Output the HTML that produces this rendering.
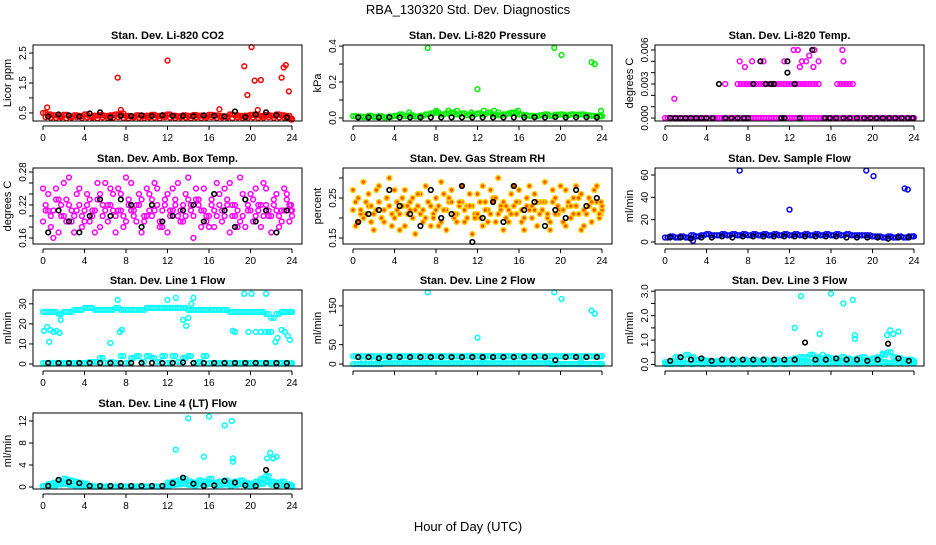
<!DOCTYPE html>
<html><head><meta charset="utf-8"><style>
html,body{margin:0;padding:0;background:#fff;}
svg text{font-family:"Liberation Sans",sans-serif;}
</style></head><body>
<svg id="chart" width="936" height="540" xmlns="http://www.w3.org/2000/svg">
<rect x="0" y="0" width="936" height="540" fill="#fff"/>
<text x="468" y="14" font-size="13" text-anchor="middle">RBA_130320  Std. Dev. Diagnostics</text>
<text x="468" y="531" font-size="13" text-anchor="middle">Hour of Day (UTC)</text>
</svg>
<script>
// shared hour grids
const H49 = [0,0.5,1,1.5,2,2.5,3,3.5,4,4.5,5,5.5,6,6.5,7,7.5,8,8.5,9,9.5,10,10.5,11,11.5,12,12.5,13,13.5,14,14.5,15,15.5,16,16.5,17,17.5,18,18.5,19,19.5,20,20.5,21,21.5,22,22.5,23,23.5,24];
const H49b = [0.25,0.75,1.25,1.75,2.25,2.75,3.25,3.75,4.25,4.75,5.25,5.75,6.25,6.75,7.25,7.75,8.25,8.75,9.25,9.75,10.25,10.75,11.25,11.75,12.25,12.75,13.25,13.75,14.25,14.75,15.25,15.75,16.25,16.75,17.25,17.75,18.25,18.75,19.25,19.75,20.25,20.75,21.25,21.75,22.25,22.75,23.25,23.75,23.9];
const H24 = [0.5,1.5,2.5,3.5,4.5,5.5,6.5,7.5,8.5,9.5,10.5,11.5,12.5,13.5,14.5,15.5,16.5,17.5,18.5,19.5,20.5,21.5,22.5,23.5];
const xTicks = [0,4,8,12,16,20,24];

// CO2
const co2A = [0.50,0.45,0.42,0.40,0.44,0.38,0.42,0.40,0.45,0.38,0.41,0.43,0.40,0.42,0.45,0.48,0.40,0.38,0.42,0.40,0.41,0.44,0.40,0.42,0.45,0.41,0.39,0.42,0.40,0.43,0.41,0.40,0.44,0.42,0.40,0.39,0.45,0.42,0.40,0.41,0.44,0.42,0.40,0.43,0.41,0.45,0.42,0.40,0.30];
const co2B = [0.36,0.34,0.33,0.35,0.32,0.34,0.36,0.33,0.35,0.34,0.32,0.35,0.33,0.34,0.36,0.33,0.32,0.35,0.34,0.33,0.35,0.34,0.32,0.36,0.34,0.33,0.35,0.34,0.32,0.35,0.33,0.34,0.36,0.33,0.35,0.34,0.32,0.35,0.33,0.34,0.35,0.33,0.34,0.36,0.33,0.35,0.34,0.33,0.28];
const co2OutH = [0.4,7.2,12.0,17.0,19.4,19.7,20.1,20.4,20.7,21.0,23.0,23.2,23.4,23.7,24.0,7.5];
const co2OutV = [0.68,1.68,2.25,0.62,2.06,1.1,2.7,1.58,0.6,1.6,1.68,2.02,2.1,1.22,0.28,0.6];
const co2K = [0.38,0.45,0.42,0.38,0.48,0.52,0.35,0.40,0.40,0.42,0.40,0.42,0.40,0.40,0.39,0.42,0.40,0.38,0.55,0.36,0.45,0.52,0.42,0.35];

// Pressure
const prA = [0.01,0.008,0.005,0.012,0.006,0.01,0.004,0.008,0.012,0.02,0.01,0.015,0.008,0.012,0.02,0.025,0.03,0.02,0.025,0.03,0.02,0.025,0.015,0.02,0.025,0.02,0.03,0.02,0.015,0.02,0.025,0.03,0.02,0.015,0.012,0.01,0.015,0.02,0.012,0.018,0.02,0.015,0.02,0.018,0.02,0.015,0.012,0.01,0.01];
const prOutH = [7.2,12.0,19.4,20.1,23.0,23.3,5.4,8.0,9.2,10.0,12.6,13.6,15.3,15.9,23.9,11.4,14.0];
const prOutV = [0.39,0.16,0.39,0.35,0.31,0.30,0.03,0.04,0.04,0.04,0.04,0.04,0.03,0.04,0.04,0.03,0.03];
const prK = [0.003,0.003,0.003,0.004,0.003,0.003,0.003,0.003,0.003,0.003,0.003,0.003,0.003,0.003,0.003,0.003,0.003,0.004,0.003,0.005,0.003,0.004,0.004,0.003];

// Li-820 temp
const tpA = [0,0,0,0,0,0,0,0,0,0,0,0,0,0,0,0,0,0,0,0,0,0,0,0,0,0,0,0,0,0,0,0,0,0,0,0,0,0,0,0,0,0,0,0,0,0,0,0,0];
const tpBH = [5.8,7.0,7.3,7.6,7.9,8.2,8.5,8.8,9.1,9.4,9.7,10.0,10.3,10.6,10.9,11.2,11.5,11.8,12.1,12.4,12.7,13.0,13.3,13.6,13.9,14.2,14.5,14.8,16.6,16.9,17.2,17.5,17.8,18.1];
const tpBV = [0.003,0.003,0.003,0.003,0.003,0.003,0.003,0.003,0.003,0.003,0.003,0.003,0.003,0.003,0.003,0.003,0.003,0.003,0.003,0.003,0.003,0.003,0.003,0.003,0.003,0.003,0.003,0.003,0.003,0.003,0.003,0.003,0.003,0.003];
const tpOutH = [0.9,7.2,7.7,8.4,9.5,11.5,12.4,12.8,13.0,13.2,13.6,13.9,14.3,14.4,14.8,17.1,17.2];
const tpOutV = [0.0017,0.005,0.0045,0.005,0.005,0.005,0.006,0.006,0.0045,0.005,0.005,0.0055,0.0045,0.006,0.005,0.006,0.005];
const tpKH = [0.5,1,1.5,2,2.5,3,3.5,4,4.6,5.2,5.8,6.4,7,7.6,8,8.5,9.2,9.7,10.2,10.5,11.2,11.5,11.8,11.8,12.5,13.0,14.2,15.4,15.9,16.5,17.2,17.8,18.5,19.2,19.8,20.4,21,21.6,22.2,22.8,23.4,23.9];
const tpKV = [0,0,0,0,0,0,0,0,0,0.003,0,0,0,0,0,0.003,0.005,0.003,0.003,0.003,0,0,0.005,0.004,0.003,0,0.006,0,0,0,0,0,0,0,0,0,0,0,0,0,0,0];

// Amb box temp
const amA = [0.19,0.24,0.21,0.17,0.26,0.22,0.20,0.25,0.19,0.23,0.21,0.18,0.26,0.22,0.20,0.24,0.27,0.21,0.19,0.23,0.25,0.20,0.22,0.18,0.24,0.21,0.26,0.19,0.23,0.20,0.22,0.25,0.18,0.21,0.24,0.20,0.26,0.22,0.19,0.23,0.21,0.25,0.18,0.22,0.20,0.24,0.21,0.23,0.20];
const amB = [0.22,0.18,0.25,0.20,0.23,0.19,0.21,0.18,0.24,0.20,0.26,0.22,0.19,0.21,0.25,0.18,0.22,0.20,0.24,0.19,0.21,0.26,0.18,0.23,0.20,0.22,0.19,0.24,0.21,0.25,0.18,0.20,0.23,0.26,0.19,0.22,0.20,0.18,0.24,0.21,0.19,0.22,0.26,0.20,0.23,0.18,0.25,0.19,0.22];
const amC = [0.25,0.21,0.16,0.23,0.20,0.27,0.17,0.22,0.21,0.19,0.17,0.24,0.21,0.25,0.17,0.21,0.19,0.26,0.22,0.17,0.20,0.23,0.25,0.21,0.17,0.25,0.20,0.22,0.27,0.16,0.23,0.21,0.20,0.18,0.22,0.25,0.17,0.20,0.27,0.18,0.24,0.20,0.22,0.25,0.17,0.21,0.19,0.24,0.21];
const amD = [0.21,0.20,0.23,0.22,0.19,0.21,0.24,0.20,0.22,0.21,0.23,0.20,0.22,0.24,0.21,0.20,0.23,0.21,0.22,0.20,0.24,0.21,0.19,0.22,0.21,0.23,0.21,0.20,0.22,0.23,0.21,0.19,0.22,0.20,0.21,0.23,0.22,0.21,0.20,0.22,0.23,0.21,0.20,0.21,0.22,0.20,0.21,0.22,0.21];
const amK = [0.17,0.21,0.19,0.17,0.20,0.23,0.20,0.23,0.22,0.18,0.22,0.19,0.20,0.21,0.22,0.19,0.24,0.21,0.18,0.23,0.19,0.21,0.17,0.21];

// Gas stream RH
const rhA = [0.22,0.25,0.20,0.26,0.21,0.24,0.19,0.23,0.27,0.21,0.18,0.24,0.22,0.26,0.20,0.23,0.25,0.19,0.22,0.27,0.21,0.24,0.20,0.23,0.26,0.18,0.22,0.25,0.21,0.24,0.19,0.23,0.27,0.20,0.22,0.26,0.21,0.24,0.19,0.25,0.22,0.27,0.20,0.23,0.26,0.21,0.19,0.24,0.22];
const rhB = [0.18,0.21,0.24,0.19,0.27,0.20,0.25,0.18,0.22,0.25,0.23,0.20,0.26,0.19,0.24,0.21,0.18,0.26,0.24,0.20,0.23,0.19,0.26,0.21,0.20,0.24,0.27,0.19,0.23,0.20,0.26,0.21,0.19,0.25,0.23,0.18,0.24,0.20,0.27,0.21,0.19,0.23,0.25,0.21,0.18,0.25,0.27,0.20,0.21];
const rhC = [0.27,0.19,0.29,0.23,0.17,0.28,0.22,0.30,0.20,0.17,0.27,0.22,0.16,0.21,0.28,0.18,0.22,0.29,0.17,0.24,0.19,0.28,0.23,0.16,0.21,0.28,0.19,0.24,0.30,0.17,0.22,0.28,0.24,0.17,0.28,0.22,0.24,0.29,0.17,0.21,0.28,0.18,0.23,0.28,0.17,0.21,0.24,0.28,0.23];
const rhD = [0.24,0.22,0.21,0.23,0.22,0.20,0.25,0.21,0.24,0.23,0.21,0.25,0.23,0.22,0.24,0.20,0.23,0.22,0.25,0.21,0.24,0.22,0.23,0.20,0.24,0.22,0.21,0.25,0.22,0.23,0.21,0.24,0.22,0.23,0.20,0.24,0.22,0.21,0.24,0.23,0.22,0.24,0.21,0.25,0.22,0.23,0.22,0.21,0.24];
const rhK = [0.19,0.21,0.22,0.27,0.23,0.21,0.18,0.27,0.20,0.21,0.28,0.14,0.20,0.24,0.19,0.28,0.22,0.24,0.18,0.22,0.20,0.27,0.23,0.25];

// Sample flow
const sfA = [4,5,4,5,4,6,5,6,7,6,6,7,6,7,6,7,6,7,6,7,6,7,6,7,6,7,6,7,6,7,6,7,6,7,6,7,6,6,6,6,5,5,4,5,4,5,4,5,5];
const sfOutH = [7.2,12.0,19.4,20.1,23.1,23.4,2.7];
const sfOutV = [64,29,64,59,48,47,1];
const sfK = [4,4,3,4,4,5,4,5,5,5,5,5,5,5,5,5,5,4,4,4,4,3,4,4];

// Line 1 flow
const l1A = [26,26,26,25,26,26,27,27,28,28,27,27,27,27,28,27,27,27,27,27,28,28,28,28,28,28,28,28,27,27,27,27,27,27,27,27,26,26,26,26,26,26,26,25,23,25,26,26,26];
const l1B = [0.5,0.5,0.5,0.5,0.5,0.5,0.5,0.5,0.5,1,1,3,0.5,1,0.5,4,0.5,3,4,1,4,3,1,4,0.5,4,1,3,4,0.5,1,4,0.5,0.5,0.5,0.5,0.5,0.5,0.5,0.5,0.5,0.5,0.5,0.5,0.5,0.5,0.5,0.5,0.5];
const l1OutH = [0.1,0.4,0.7,1.0,1.3,1.6,1.7,0.6,6.5,7.2,7.4,7.6,12.0,12.8,13.5,13.8,14.0,14.3,14.5,18.3,18.5,19.4,19.8,20.1,20.5,21.0,21.5,21.4,21.7,22.0,22.4,22.6,23.0,23.3,23.6,23.8];
const l1OutV = [16.5,18.5,17,16,16.5,15.5,22,11,10.5,32,16,17,32,33,22,19,23,30,33,16.5,16,35,16,35,16,16,35,16,16,16,11,13,17,16,14,12];
const l1K = [0.5,0.5,0.5,0.5,0.5,0.5,0.5,0.5,0.5,0.5,0.5,0.5,0.5,0.8,0.5,0.5,0.5,0.5,0.5,0.5,0.5,0.5,0.5,0.5];

// Line 2 flow
const l2A = [20,20,20,20,20,20,20,20,20,20,20,20,20,20,20,20,20,20,20,20,20,20,20,20,20,20,20,20,20,20,20,20,20,20,20,20,20,20,20,20,20,20,20,20,20,20,20,20,20];
const l2B = [0,0,0,0,0,0,2,2,2,2,2,2,2,2,2,2,2,2,2,2,2,2,2,2,2,2,2,2,2,2,2,2,2,2,2,2,2,2,0,0,0,0,0,0,0,0,0,0,0];
const l2OutH = [7.2,19.4,20.1,23.0,23.3,12.0,6.9,7.5,18.9,1.0,2.0,22.0,12.5];
const l2OutV = [185,185,168,138,130,68,3,3,3,8,8,5,10];
const l2K = [18,18,15,18,18,18,18,18,18,18,18,18,18,18,18,18,18,18,18,10,18,18,18,18];

// Line 3 flow
const l3A = [0.1,0.15,0.3,0.2,0.4,0.3,0.2,0.2,0.15,0.1,0.15,0.2,0.15,0.2,0.15,0.2,0.15,0.2,0.15,0.2,0.15,0.2,0.15,0.2,0.2,0.25,0.3,0.3,0.4,0.3,0.25,0.3,0.25,0.2,0.3,0.25,0.2,0.25,0.3,0.2,0.25,0.3,0.4,0.5,0.3,0.25,0.2,0.2,0.15];
const l3B = [0.02,0.02,0.05,0.02,0.05,0.02,0.05,0.02,0.05,0.02,0.05,0.02,0.05,0.02,0.05,0.02,0.05,0.02,0.05,0.02,0.05,0.02,0.05,0.02,0.05,0.05,0.1,0.05,0.1,0.05,0.1,0.05,0.1,0.05,0.1,0.05,0.1,0.05,0.1,0.05,0.1,0.05,0.1,0.05,0.1,0.05,0.1,0.05,0.05];
const l3OutH = [12.5,13.1,14.9,16.0,17.2,18.1,18.3,18.3,21.4,21.7,22.0,22.5,21.0,15.2];
const l3OutV = [1.5,2.8,1.25,2.9,2.5,2.65,1.2,1.05,1.2,1.4,1.25,1.35,0.45,0.4];
const l3K = [0.15,0.3,0.2,0.25,0.15,0.2,0.2,0.2,0.2,0.2,0.2,0.2,0.2,0.9,0.2,0.2,0.25,0.2,0.2,0.15,0.2,0.85,0.25,0.15];

// Line 4 flow
const l4A = [0.2,0.5,0.8,1.0,1.5,1.2,1.0,0.8,0.6,0.2,0.1,0.1,0.1,0.1,0.1,0.1,0.1,0.1,0.1,0.1,0.1,0.1,0.1,0.2,0.8,1.0,1.2,1.5,1.0,0.8,1.2,1.0,1.5,0.8,1.0,1.2,0.8,1.0,1.2,0.8,0.6,1.0,1.5,2.0,1.0,0.8,1.0,0.5,0.3];
const l4B = [0.1,0.2,0.3,0.5,0.6,0.4,0.3,0.2,0.1,0.1,0.1,0.1,0.1,0.1,0.1,0.1,0.1,0.1,0.1,0.1,0.1,0.1,0.1,0.1,0.3,0.4,0.5,0.6,0.4,0.3,0.5,0.4,0.6,0.3,0.4,0.5,0.3,0.4,0.5,0.3,0.2,0.4,0.6,0.9,0.4,0.3,0.4,0.2,0.1];
const l4OutH = [12.8,14.0,15.5,16.0,17.5,18.2,18.3,18.3,21.6,21.9,22.2,22.5];
const l4OutV = [6.8,12.5,5.5,12.8,11.2,12,5.2,4.6,5.2,6.2,5.2,5.5];
const l4K = [0.2,1.3,0.9,0.7,0.2,0.2,0.2,0.2,0.2,0.2,0.2,0.2,0.7,1.7,0.6,0.2,0.3,1.1,0.8,0.3,0.2,3.1,0.2,0.2];

const panels = [
 {name:'co2', title:'Stan. Dev. Li-820 CO2', ylab:'Licor ppm', col:0,row:0, y0:0.23,y1:2.77, ticks:[0.5,1,1.5,2,2.5], labels:['0.5','','1.5','','2.5'], color:'#ff0000',
  series:[[H49,co2A],[H49b,co2B],[H49b,co2A],[co2OutH,co2OutV]], black:[[H24,co2K]]},
 {name:'pressure', title:'Stan. Dev. Li-820 Pressure', ylab:'kPa', col:1,row:0, y0:-0.017,y1:0.406, ticks:[0,0.1,0.2,0.3,0.4], labels:['0.0','','0.2','','0.4'], color:'#00ee00',
  series:[[H49,prA],[H49b,prA],[prOutH,prOutV]], black:[[H24,prK]]},
 {name:'li820-temp', title:'Stan. Dev. Li-820 Temp.', ylab:'degrees C', col:2,row:0, y0:-0.00026,y1:0.00644, ticks:[0,0.001,0.002,0.003,0.004,0.005,0.006], labels:['0.000','','','0.003','','','0.006'], color:'#ff00ff',
  series:[[H49,tpA],[H49b,tpA],[tpBH,tpBV],[tpOutH,tpOutV]], black:[[tpKH,tpKV]]},
 {name:'amb-box-temp', title:'Stan. Dev. Amb. Box Temp.', ylab:'degrees C', col:0,row:1, y0:0.149,y1:0.2873, ticks:[0.16,0.18,0.2,0.22,0.24,0.26,0.28], labels:['0.16','','','0.22','','','0.28'], color:'#ff00ff',
  series:[[H49,amA],[H49b,amB],[H49,amC],[H49b,amD]], black:[[H24,amK]]},
 {name:'gas-stream-rh', title:'Stan. Dev. Gas Stream RH', ylab:'percent', col:1,row:1, y0:0.135,y1:0.325, ticks:[0.15,0.2,0.25,0.3], labels:['0.15','','0.25',''], color:'#ffd000', fill:'#ff5000',
  series:[[H49,rhA],[H49b,rhB],[H49,rhC],[H49b,rhD]], black:[[H24,rhK]]},
 {name:'sample-flow', title:'Stan. Dev. Sample Flow', ylab:'ml/min', col:2,row:1, y0:-1.8,y1:66.3, ticks:[0,20,40,60], labels:['0','20','40','60'], color:'#0000ff',
  series:[[H49,sfA],[H49b,sfA],[sfOutH,sfOutV]], black:[[H24,sfK]]},
 {name:'line1-flow', title:'Stan. Dev. Line 1 Flow', ylab:'ml/min', col:0,row:2, y0:-1,y1:36.9, ticks:[0,10,20,30], labels:['0','10','20','30'], color:'#00ffff',
  series:[[H49,l1A],[H49b,l1A],[H49,l1B],[H49b,l1B],[l1OutH,l1OutV]], black:[[H24,l1K]]},
 {name:'line2-flow', title:'Stan. Dev. Line 2 Flow', ylab:'ml/min', col:1,row:2, y0:-5,y1:191, ticks:[0,50,100,150], labels:['0','50','','150'], color:'#00ffff',
  series:[[H49,l2A],[H49b,l2A],[H49,l2B],[H49b,l2B],[l2OutH,l2OutV]], black:[[H24,l2K]]},
 {name:'line3-flow', title:'Stan. Dev. Line 3 Flow', ylab:'ml/min', col:2,row:2, y0:-0.06,y1:3.05, ticks:[0,0.5,1,1.5,2,2.5,3], labels:['0.0','','1.0','','2.0','','3.0'], color:'#00ffff',
  series:[[H49,l3A],[H49b,l3A],[H49,l3B],[H49b,l3B],[l3OutH,l3OutV]], black:[[H24,l3K]]},
 {name:'line4-flow', title:'Stan. Dev. Line 4 (LT) Flow', ylab:'ml/min', col:0,row:3, y0:-0.36,y1:13.45, ticks:[0,4,8,12], labels:['0','4','8','12'], color:'#00ffff',
  series:[[H49,l4A],[H49b,l4A],[H49,l4B],[H49b,l4B],[l4OutH,l4OutV]], black:[[H24,l4K]]}
];

const NS='http://www.w3.org/2000/svg';
const svg=document.getElementById('chart');
const colL=[33,343,655], rowT=[45,168,290,413], BW=269, BH=76;
function mk(tag,attrs,parent){const e=document.createElementNS(NS,tag);for(const k in attrs)e.setAttribute(k,attrs[k]);parent.appendChild(e);return e;}

panels.forEach(p=>{
  const L=colL[p.col], T=rowT[p.row];
  const g=mk('g',{},svg);
  
  
  const xs=h=>L+10+h*(BW-20)/24;
  const ys=v=>T+BH-(v-p.y0)/(p.y1-p.y0)*BH;
  const t=mk('text',{x:L+BW/2,y:T-6,'font-size':11,'font-weight':'bold','text-anchor':'middle'},g);
  t.textContent=p.title;
  
  
  const yl=mk('text',{transform:`translate(${L-22},${T+BH/2}) rotate(-90)`,'font-size':11,'text-anchor':'middle'},g);
  yl.textContent=p.ylab;
  
  
  // y axis
  const ya=mk('g',{},g);
  
  
  p.ticks.forEach((v,i)=>{
    mk('line',{x1:L,x2:L-4,y1:ys(v),y2:ys(v),stroke:'#000'},ya);
    if(p.labels[i]){const tl=mk('text',{transform:`translate(${L-7},${ys(v)}) rotate(-90)`,'font-size':10,'text-anchor':'middle'},ya);tl.textContent=p.labels[i];}
  });
  // x axis
  const xa=mk('g',{},g);
  
  
  const by=T+BH+5;
  mk('line',{x1:xs(0),x2:xs(24),y1:by,y2:by,stroke:'#000'},xa);
  xTicks.forEach(h=>{
    mk('line',{x1:xs(h),x2:xs(h),y1:by,y2:by+4,stroke:'#000'},xa);
    if(p.row===2&&p.col>0){} else {const tx=mk('text',{x:xs(h),y:by+15,'font-size':10,'text-anchor':'middle'},xa);tx.textContent=h;}
  });
  // points
  const pts=mk('g',{fill:p.fill||'none',stroke:p.color,'stroke-width':1.5},g);
  
  
  p.series.forEach(([hs,vs])=>{
    vs.forEach((v,i)=>{
      const c=mk('circle',{cx:xs(hs[i]),cy:ys(v),r:2.4},pts);
      
      
    });
  });
  const kp=mk('g',{fill:'none',stroke:'#000','stroke-width':1.6},g);
  
  
  p.black.forEach(([hs,vs])=>{
    vs.forEach((v,i)=>{
      const c=mk('circle',{cx:xs(hs[i]),cy:ys(v),r:2.3},kp);
      
      
    });
  });
  const box=mk('rect',{x:L,y:T,width:BW,height:BH,fill:'none',stroke:'#000'},g);
  
  
});
</script>
</body></html>
